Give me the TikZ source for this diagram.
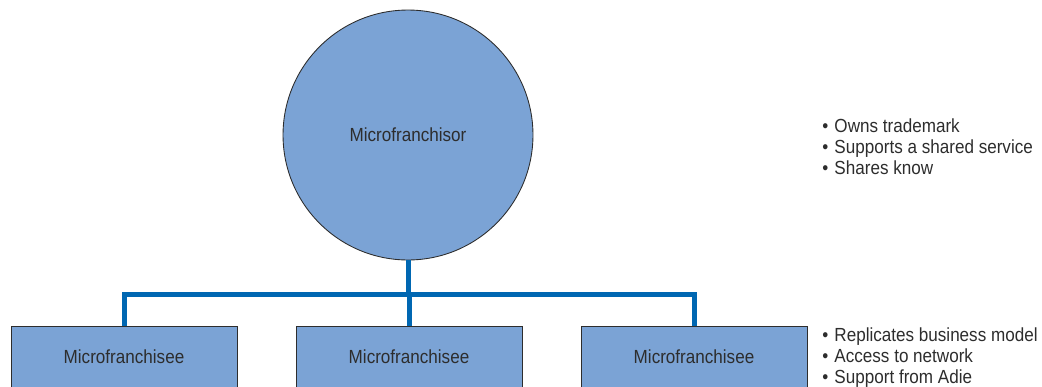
\documentclass[tikz,border=0pt]{standalone}
\usepackage{fontspec}
\setmainfont{Liberation Sans}[FakeStretch=0.9]
\usepackage{tikz}
\usetikzlibrary{positioning}
\definecolor{nodefill}{RGB}{123,163,213}
\definecolor{linkblue}{RGB}{0,103,178}
\definecolor{inkgray}{RGB}{45,45,45}
\newcommand{\blt}{\textbullet\hspace{3.5pt}}
\tikzset{x=0.02cm,y=-0.02cm,
  main node/.style={fill=nodefill,draw=inkgray,line width=0.5pt,text=inkgray,font=\fontsize{10.8}{12}\selectfont},
  hub node/.style={main node,circle,minimum size=5cm,inner sep=0pt},
  leaf node/.style={main node,rectangle,minimum width=4.52cm,minimum height=1.24cm,inner sep=0pt},
  note/.style={align=left,anchor=west,text=inkgray,inner sep=0pt,font=\fontsize{10.8}{12}\selectfont},
  edge/.style={draw=linkblue,line width=0.1cm}}

\begin{document}
\begin{tikzpicture}
    \useasboundingbox (0,0) rectangle (1042,386);
    \node[hub node] (v1) at (408,135) {Microfranchisor};
    \node[leaf node] (v2) at (124,357) {Microfranchisee};
    \node[leaf node] (v3) at (409,357) {Microfranchisee};
    \node[leaf node] (v4) at (694,357) {Microfranchisee};
    \coordinate (j) at (v1.south |- 0,294);
    \draw[edge] (v2.north) |- (j) -| (v4.north);
    \draw[edge] (v3.north) |- (j) -- (v1.south);
    \node[note] (t1) at (822,147) {\blt Owns trademark\\\blt Supports a shared service\\\blt Shares know};
    \node[note] (t2) at (822,358) {\blt Replicates business model\\\blt Access to network\\\blt Support from Adie};
  \end{tikzpicture}
\end{document}
